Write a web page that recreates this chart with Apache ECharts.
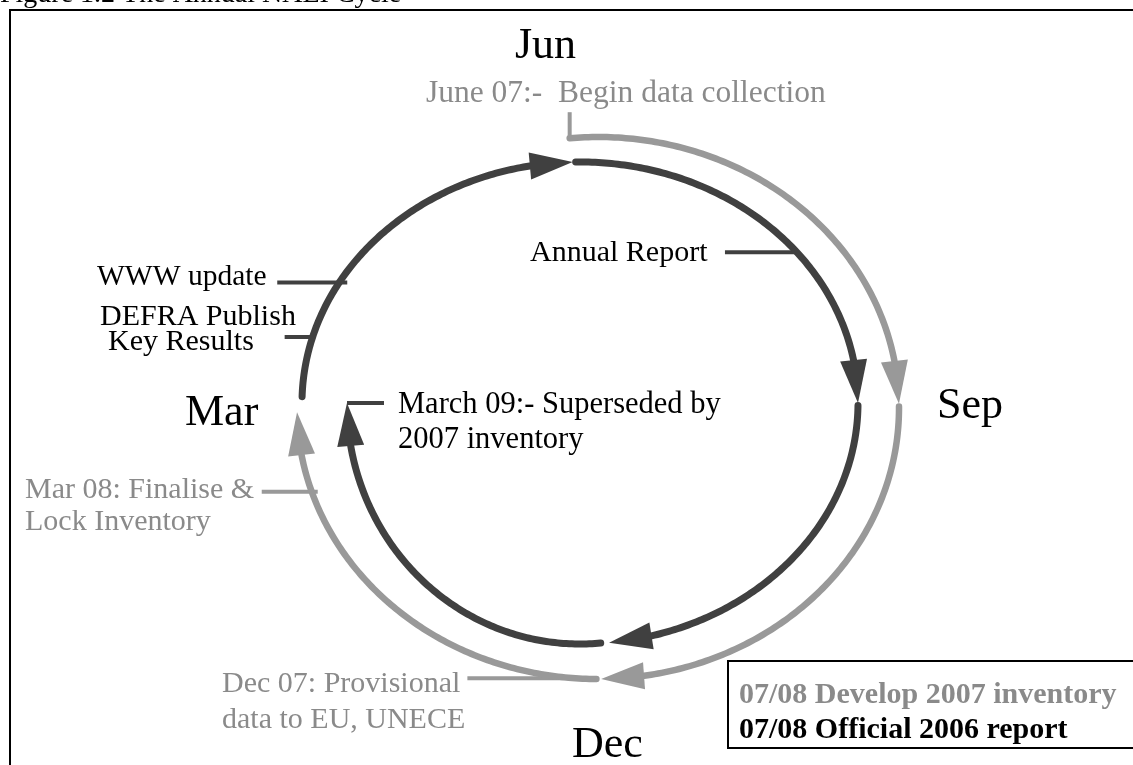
<!DOCTYPE html>
<html>
<head>
<meta charset="utf-8">
<script src="https://cdn.jsdelivr.net/npm/echarts@6/dist/echarts.min.js"></script>
<style>
html,body{margin:0;padding:0;background:#fff;}
#chart{width:1133px;height:765px;}
</style>
</head>
<body>
<div id="chart"></div>
<script>
// ---------------- data ----------------
const titleText = 'Figure 1.2 The Annual NAEI Cycle';
const cycleMonths = ['Jun', 'Sep', 'Dec', 'Mar'];
const cycleMonthIndex = [0, 3, 6, 9];            // months counted clockwise from June
const inventoryName = '07/08 Develop 2007 inventory';
const reportName = '07/08 Official 2006 report';
// arcs of each cycle: [fromMonth, toMonth] (arrow at toMonth)
const inventorySegments = [[-0.18, 2.97], [2.99, 5.98], [6.01, 8.97]];
const reportSegments = [[-0.03, 3.0], [3.02, 5.8], [5.83, 9.0], [9.05, 11.95]];
// milestones
const inventoryEvents = ['June 07:-  Begin data collection', 'Dec 07: Provisional\ndata to EU, UNECE', 'Mar 08: Finalise &\nLock Inventory'];
const inventoryEventMonths = [-0.18, 6.15, 8.4];
const reportEvents = ['Annual Report', 'March 09:- Superseded by\n2007 inventory', 'DEFRA Publish\nKey Results', 'WWW update'];
const reportEventMonths = [1.71, 9.0, 9.53, 10.0];

// ---------------- layout / style ----------------
const L = {
  tracks: {
    outer: {cx: 580, cy: 403, rx: 278, ry: 241},
    inner: {cx: 580, cy: 403, rx: 233, ry: 241},
    gray:  {cx: 598, cy: 408, rx: 301, ry: 271}
  },
  inventoryTracks: ['gray', 'gray', 'gray'],
  reportTracks: ['outer', 'outer', 'inner', 'outer'],
  inventoryEventTracks: ['gray', 'gray', 'gray'],
  reportEventTracks: ['outer', 'inner', 'outer', 'outer'],
  inventoryTicks: [['v', 0, -26], ['h', -107, 0], ['h', -50, 6]],
  reportTicks: [['h', -72, 2], ['h', 0, 37], ['h', -28, 1], ['h', -62, 8]],
  // [left, baseline, lineStep, secondLineIndent, fontSize]
  inventoryLabelPos: [[426, 102, 0, 0, 31.5], [222, 692, 36, 0, 30], [25, 498, 32, 0, 30]],
  reportLabelPos: [[530, 261, 0, 0, 30], [398, 413, 35, 0, 30.5], [100, 325, 25, 8, 30], [97, 285, 0, 0, 29.5]],
  monthPos: [[515, 58], [937, 418], [572, 757], [185, 425]],
  arrowLen: 43, arrowHalf: 13.5
};
const DARK = '#404040', GRAY = '#999999', GRAY_TEXT = '#8a8a8a';
const FONT = '"Liberation Serif", "Times New Roman", serif';
const MID = 0.26; // baseline offset from the text middle, as a fraction of font size

function pt(t, m) {
  const a = m * Math.PI / 6;
  return [t.cx + t.rx * Math.sin(a), t.cy - t.ry * Math.cos(a)];
}

function cycleRender(trackNames, color, width) {
  return function (params, api) {
    const t = L.tracks[trackNames[params.dataIndex]];
    const m0 = api.value(0), m1 = api.value(1);
    const tip = api.coord(pt(t, m1));
    let mb = m1, p = tip;
    while (mb > m0) {
      mb -= 0.001;
      p = api.coord(pt(t, mb));
      if (Math.hypot(p[0] - tip[0], p[1] - tip[1]) >= L.arrowLen) break;
    }
    const pts = [];
    const n = 120;
    for (let k = 0; k <= n; k++) pts.push(api.coord(pt(t, m0 + (mb - m0) * k / n)));
    const dx = tip[0] - p[0], dy = tip[1] - p[1];
    const len = Math.hypot(dx, dy) || 1;
    const ux = dx / len, uy = dy / len;
    const bx = tip[0] - ux * L.arrowLen, by = tip[1] - uy * L.arrowLen;
    const h = L.arrowHalf;
    return {
      type: 'group',
      children: [
        {type: 'polyline', shape: {points: pts},
         style: {stroke: color, lineWidth: width, lineCap: 'round', lineJoin: 'round', fill: null}},
        {type: 'polygon', shape: {points: [tip, [bx - uy * h, by + ux * h], [bx + uy * h, by - ux * h]]},
         style: {fill: color}}
      ]
    };
  };
}

function eventRender(trackNames, ticks, labelPos, labels, lineColor, textColor) {
  return function (params, api) {
    const i = params.dataIndex;
    const t = L.tracks[trackNames[i]];
    const a = api.coord(pt(t, api.value(0)));
    const tk = ticks[i];
    const p1 = tk[0] === 'h' ? [a[0] + tk[1], a[1]] : [a[0], a[1] + tk[1]];
    const p2 = tk[0] === 'h' ? [a[0] + tk[2], a[1]] : [a[0], a[1] + tk[2]];
    const children = [{type: 'line', shape: {x1: p1[0], y1: p1[1], x2: p2[0], y2: p2[1]},
                       style: {stroke: lineColor, lineWidth: 4}}];
    const lp = labelPos[i];
    const fs = lp[4];
    labels[i].split('\n').forEach(function (s, k) {
      const o = api.coord([lp[0] + (k ? lp[3] : 0), lp[1] + k * lp[2]]);
      children.push({type: 'text', style: {text: s, x: o[0], y: o[1] - MID * fs, fill: textColor,
        fontSize: fs, fontFamily: FONT, align: 'left', verticalAlign: 'middle'}});
    });
    return {type: 'group', children: children};
  };
}

function monthRender(params, api) {
  const i = params.dataIndex;
  const o = api.coord(L.monthPos[i]);
  return {type: 'text', style: {text: cycleMonths[i], x: o[0], y: o[1] - MID * 44, fill: '#000',
    fontSize: 44, fontFamily: FONT, align: 'left', verticalAlign: 'middle'}};
}

const chart = echarts.init(document.getElementById('chart'), null, {renderer: 'canvas'});
chart.setOption({
  animation: false,
  backgroundColor: '#fff',
  title: {
    text: titleText, left: 0, top: -19, padding: 0,
    textStyle: {fontFamily: FONT, fontSize: 28, fontWeight: 'normal', color: '#000'}
  },
  legend: {
    left: 728, top: 661, orient: 'vertical', icon: 'none', itemWidth: 0, itemHeight: 35, itemGap: 0,
    padding: [17, 30, 0, 6], borderColor: '#000', borderWidth: 2, backgroundColor: '#fff',
    selectedMode: false,
    textStyle: {fontFamily: FONT, fontSize: 30, fontWeight: 'bold', lineHeight: 35},
    data: [
      {name: inventoryName, textStyle: {color: GRAY_TEXT}},
      {name: reportName, textStyle: {color: '#000'}}
    ]
  },
  grid: {left: 10, top: 10, width: 1133, height: 765, show: true, borderColor: '#000', borderWidth: 2,
         backgroundColor: 'transparent', containLabel: false, outerBoundsMode: 'none'},
  xAxis: {type: 'value', min: 10, max: 1143, show: false},
  yAxis: {type: 'value', min: 10, max: 775, inverse: true, show: false},
  series: [
    {type: 'custom', name: 'inventory events', silent: true, clip: false,
     renderItem: eventRender(L.inventoryEventTracks, L.inventoryTicks, L.inventoryLabelPos, inventoryEvents, GRAY, GRAY_TEXT),
     data: inventoryEventMonths.map(function (m) { return [m, 0]; })},
    {type: 'custom', name: 'report events', silent: true, clip: false,
     renderItem: eventRender(L.reportEventTracks, L.reportTicks, L.reportLabelPos, reportEvents, DARK, '#000'),
     data: reportEventMonths.map(function (m) { return [m, 0]; })},
    {type: 'custom', name: inventoryName, silent: true, clip: false, color: GRAY,
     renderItem: cycleRender(L.inventoryTracks, GRAY, 6.5),
     data: inventorySegments},
    {type: 'custom', name: reportName, silent: true, clip: false, color: DARK,
     renderItem: cycleRender(L.reportTracks, DARK, 7),
     data: reportSegments},
    {type: 'custom', name: 'months', silent: true, clip: false,
     renderItem: monthRender,
     data: cycleMonthIndex.map(function (m) { return [m, 0]; })}
  ]
});
</script>
</body>
</html>
